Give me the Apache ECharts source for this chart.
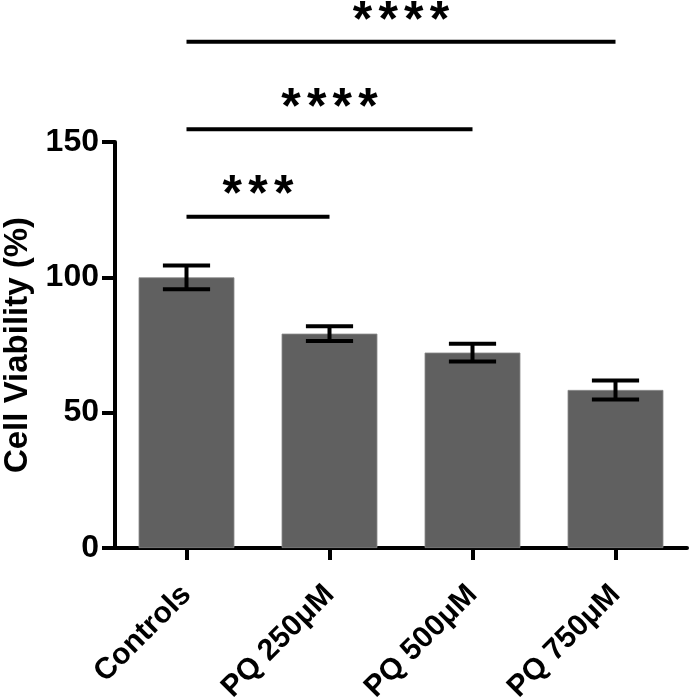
<!DOCTYPE html>
<html>
<head>
<meta charset="utf-8">
<script src="https://cdn.jsdelivr.net/npm/echarts@6/dist/echarts.min.js"></script>
<style>
html,body{margin:0;padding:0;background:#fff;}
#chart{width:689px;height:697px;}
</style>
</head>
<body>
<div id="chart"></div>
<script>
const categories = ['Controls', 'PQ 250μM', 'PQ 500μM', 'PQ 750μM'];
const means = [100, 79.2, 72.2, 58.4];
const errors = [4.4, 2.7, 3.3, 3.5];
const bracketFrom = [0, 0, 0];
const bracketTo = [1, 2, 3];
const bracketLevel = [122.4, 154.7, 187];
const bracketStars = ['***', '****', '****'];
const yTicks = [0, 50, 100, 150];

const FONT = '"Liberation Sans", Arial, Helvetica, sans-serif';

const errData = means.map((m, i) => [i, m - errors[i], m + errors[i]]);
const brData = bracketFrom.map((f, i) => [f, bracketTo[i], bracketLevel[i], bracketStars[i]]);

const chart = echarts.init(document.getElementById('chart'));
chart.setOption({
  animation: false,
  backgroundColor: '#ffffff',
  grid: { left: 115, right: 2, top: 142, bottom: 149, containLabel: false, outerBoundsMode: 'none' },
  xAxis: {
    type: 'category',
    data: categories,
    axisLine: { show: true, lineStyle: { color: '#000', width: 4 } },
    axisTick: { show: true, alignWithLabel: true, length: 12, lineStyle: { color: '#000', width: 4 } },
    axisLabel: { rotate: 45, margin: 42, color: '#000', fontSize: 30, fontWeight: 'bold', fontFamily: FONT }
  },
  yAxis: {
    type: 'value',
    min: yTicks[0],
    max: yTicks[yTicks.length - 1],
    interval: 50,
    name: 'Cell Viability (%)',
    nameLocation: 'middle',
    nameGap: 79,
    nameRotate: 90,
    nameTextStyle: { color: '#000', fontSize: 33, fontWeight: 'bold', fontFamily: FONT },
    axisLine: { show: true, lineStyle: { color: '#000', width: 4 } },
    axisTick: { show: true, length: 13, lineStyle: { color: '#000', width: 4 } },
    axisLabel: { margin: 16, color: '#000', fontSize: 32, fontWeight: 'bold', fontFamily: FONT },
    splitLine: { show: false }
  },
  series: [
    {
      type: 'bar',
      data: means,
      barWidth: '67%',
      itemStyle: { color: '#606060', borderColor: '#8c8c8c', borderWidth: 0.8 },
      z: 2
    },
    {
      type: 'custom',
      data: errData,
      z: 3,
      renderItem: function (params, api) {
        const x = api.value(0);
        const lo = api.coord([x, api.value(1)]);
        const hi = api.coord([x, api.value(2)]);
        const capHalf = api.size([1, 0])[0] * 0.165;
        const st = { stroke: '#000', lineWidth: 4 };
        return {
          type: 'group',
          children: [
            { type: 'line', shape: { x1: lo[0], y1: lo[1], x2: hi[0], y2: hi[1] }, style: st },
            { type: 'line', shape: { x1: lo[0] - capHalf, y1: lo[1], x2: lo[0] + capHalf, y2: lo[1] }, style: st },
            { type: 'line', shape: { x1: hi[0] - capHalf, y1: hi[1], x2: hi[0] + capHalf, y2: hi[1] }, style: st }
          ]
        };
      }
    },
    {
      type: 'custom',
      data: brData,
      clip: false,
      z: 4,
      renderItem: function (params, api) {
        const a = api.coord([api.value(0), api.value(2)]);
        const b = api.coord([api.value(1), api.value(2)]);
        const stars = brData[params.dataIndex][3];
        const pitch = 25.7;
        const cx = (a[0] + b[0]) / 2;
        const children = [
          { type: 'line', shape: { x1: a[0], y1: a[1], x2: b[0], y2: b[1] }, style: { stroke: '#000', lineWidth: 4 } }
        ];
        const n = stars.length;
        for (let k = 0; k < n; k++) {
          children.push({
            type: 'text',
            style: {
              text: '*',
              x: cx + (k - (n - 1) / 2) * pitch,
              y: a[1] - 20,
              align: 'center',
              verticalAlign: 'middle',
              fill: '#000',
              font: 'bold 50px ' + FONT
            }
          });
        }
        return { type: 'group', children: children };
      }
    }
  ]
});
</script>
</body>
</html>
